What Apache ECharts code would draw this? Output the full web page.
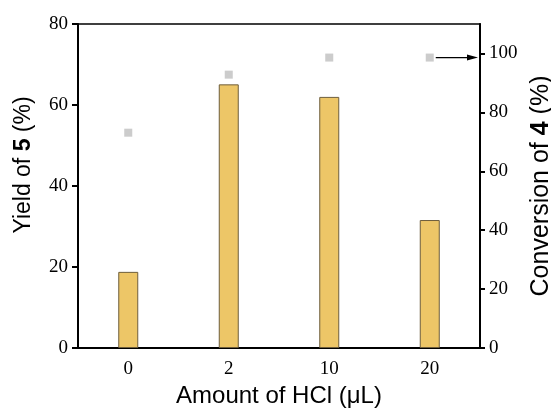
<!DOCTYPE html>
<html>
<head>
<meta charset="utf-8">
<script src="https://cdn.jsdelivr.net/npm/echarts@6/dist/echarts.min.js"></script>
<style>html,body{margin:0;padding:0;background:#fff}#c{width:551px;height:414px}</style>
</head>
<body>
<div id="c"></div>
<script>
const categories = ['0', '2', '10', '20'];
const yieldValues = [18.8, 65.1, 62.0, 31.6];
const conversionValues = [73.1, 92.8, 98.6, 98.6];
const leftTicks = [0, 20, 40, 60, 80];
const rightTicks = [0, 20, 40, 60, 80, 100];

const G = {left: 78, right: 71, top: 24, bottom: 66};
const chart = echarts.init(document.getElementById('c'), null, {renderer: 'canvas'});
const serif = 'Liberation Serif';
const sans = 'Liberation Sans';

function titleRich(size) {
  return {
    n: {fontFamily: sans, fontSize: size, color: '#000'},
    b: {fontFamily: sans, fontSize: size, fontWeight: 'bold', color: '#000'}
  };
}

chart.setOption({
  animation: false,
  backgroundColor: '#fff',
  grid: {left: G.left, right: G.right, top: G.top, bottom: G.bottom, show: true, borderColor: '#000', borderWidth: 1.5, containLabel: false, outerBoundsMode: 'none'},
  xAxis: {
    type: 'category', data: categories,
    name: 'Amount of HCl (μL)', nameLocation: 'middle', nameGap: 36,
    nameTextStyle: {fontFamily: sans, fontSize: 24, color: '#000'},
    axisLine: {lineStyle: {color: '#000', width: 2}},
    axisTick: {alignWithLabel: true, length: 5, lineStyle: {color: '#000', width: 2}},
    axisLabel: {fontFamily: serif, fontSize: 19, color: '#000', margin: 12}
  },
  yAxis: [{
    type: 'value', min: 0, max: 80, interval: 20, position: 'left',
    name: '{n|Yield of }{b|5}{n| (%)}', nameLocation: 'middle', nameGap: 43, nameRotate: 90,
    nameTextStyle: {padding: [0, 0, 0, 42], rich: titleRich(23)},
    axisLine: {show: true, lineStyle: {color: '#000', width: 2}},
    axisTick: {show: true, length: 6, lineStyle: {color: '#000', width: 2}},
    axisLabel: {fontFamily: serif, fontSize: 19, color: '#000', margin: 10, customValues: leftTicks},
    splitLine: {show: false}
  }, {
    type: 'value', min: 0, max: 110, position: 'right',
    name: '{n|Conversion of }{b|4}{n| (%)}', nameLocation: 'middle', nameGap: 42, nameRotate: 90,
    nameTextStyle: {rich: titleRich(25)},
    axisLine: {show: true, lineStyle: {color: '#000', width: 2}},
    axisTick: {show: true, length: 5, lineStyle: {color: '#000', width: 2}, customValues: rightTicks},
    axisLabel: {fontFamily: serif, fontSize: 19, color: '#000', margin: 9, customValues: rightTicks},
    splitLine: {show: false}
  }],
  series: [{
    type: 'bar', data: yieldValues, yAxisIndex: 0, barWidth: 20,
    itemStyle: {color: '#EDC667', borderColor: '#6e5e3c', borderWidth: 1}
  }, {
    type: 'scatter', data: conversionValues, yAxisIndex: 1, symbol: 'rect', symbolSize: 8,
    itemStyle: {color: '#BFBFBF'}
  }]
});

// arrow from last conversion point to the right axis
const p = chart.convertToPixel({xAxisIndex: 0, yAxisIndex: 1}, [categories[3], conversionValues[3]]);
const xEnd = 551 - G.right - 2;
chart.setOption({
  graphic: [{
    type: 'line', shape: {x1: p[0] + 6, y1: p[1], x2: xEnd - 8, y2: p[1]},
    style: {stroke: '#000', lineWidth: 1.2}
  }, {
    type: 'polygon', shape: {points: [[xEnd, p[1]], [xEnd - 11, p[1] - 3], [xEnd - 11, p[1] + 3]]},
    style: {fill: '#000'}
  }]
});
</script>
</body>
</html>
